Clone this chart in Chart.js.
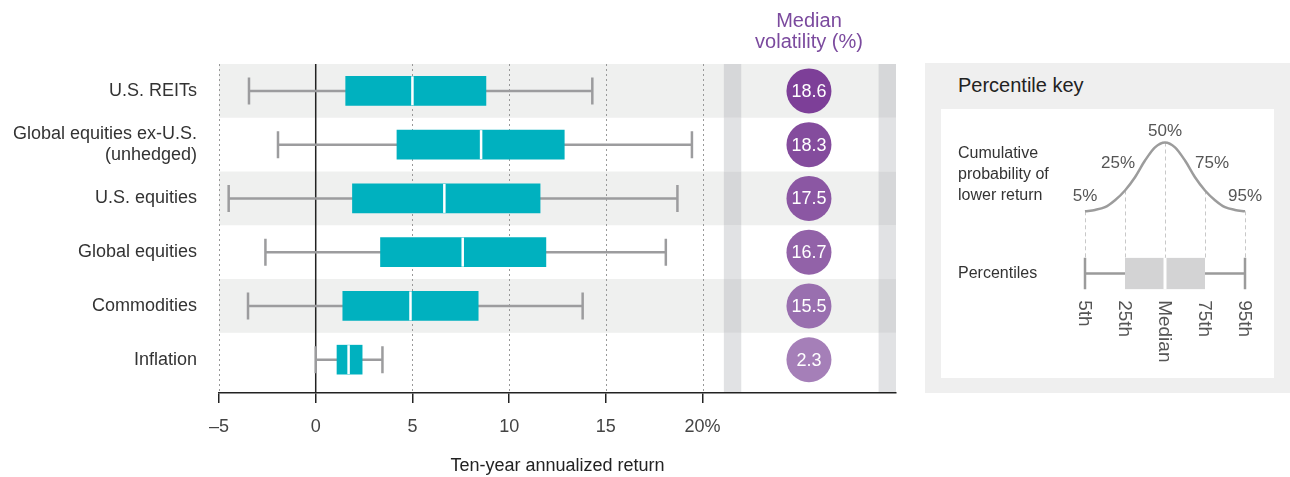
<!DOCTYPE html>
<html lang="en">
<head>
    <meta charset="UTF-8">
    <title>Ten-year annualized return</title>
    <script src="https://cdn.jsdelivr.net/npm/chart.js"></script>
    <style>
        body { margin: 0; background: #fff; font-family: "Liberation Sans", Arial, sans-serif; }
        #wrap { position: relative; width: 1290px; height: 477px; overflow: hidden; }
        #mainChart { position: absolute; left: 0; top: 0; }
        #keyPanel { position: absolute; left: 925px; top: 63px; width: 365px; height: 330px; background: #efefef; }
        #keyTitle { position: absolute; left: 33px; top: 11px; font-size: 20px; color: #222; }
        #keyInner { position: absolute; left: 16px; top: 46px; width: 333px; height: 269px; background: #fff; }
        #keyChart { position: absolute; left: 0; top: 0; }
        .keyText { position: absolute; left: 17px; font-size: 16px; line-height: 21px; color: #333; }
    </style>
</head>
<body>
<div id="wrap">
    <canvas id="mainChart" width="910" height="477"></canvas>
    <div id="keyPanel">
        <div id="keyTitle">Percentile key</div>
        <div id="keyInner">
            <canvas id="keyChart" width="333" height="269"></canvas>
            <div class="keyText" style="top:33px">Cumulative<br>probability of<br>lower return</div>
            <div class="keyText" style="top:153px">Percentiles</div>
        </div>
    </div>
</div>

<script>
    // main chart data
    const categories = ['U.S. REITs', ['Global equities ex-U.S.', '(unhedged)'], 'U.S. equities', 'Global equities', 'Commodities', 'Inflation'];
    const p5  = [-3.45, -1.95, -4.5, -2.6, -3.5, 0.0];
    const p25 = [1.55, 4.2, 1.9, 3.35, 1.4, 1.1];
    const p50 = [5.0, 8.55, 6.65, 7.6, 4.9, 1.7];
    const p75 = [8.8, 12.85, 11.6, 11.9, 8.4, 2.4];
    const p95 = [14.3, 19.45, 18.7, 18.1, 13.8, 3.45];
    const volatility = [18.6, 18.3, 17.5, 16.7, 15.5, 2.3];
    const xTicks = [-5, 0, 5, 10, 15, 20];

    // percentile key data
    const keyCurveX = [-2, -1.75, -1.5, -1.25, -1, -0.75, -0.5, -0.25, 0, 0.25, 0.5, 0.75, 1, 1.25, 1.5, 1.75, 2];
    const keyCurveY = [0.01, 0.03, 0.07, 0.17, 0.31, 0.5, 0.74, 0.93, 1, 0.93, 0.74, 0.5, 0.31, 0.17, 0.07, 0.03, 0.01];
    const keyMarks = [-2, -1, 0, 1, 2];
    const keyPctLabels = ['5%', '25%', '50%', '75%', '95%'];
    const keyNames = ['5th', '25th', 'Median', '75th', '95th'];

    const FONT = "'Liberation Sans', Arial, sans-serif";
    Chart.defaults.font.family = FONT;

    const teal = '#00b1bf';
    const whiskerGray = '#9c9c9e';
    const purple = '#7b4a9e';
    const volColors = ['#7d3f98', '#844c9d', '#8b57a3', '#9262a8', '#996faf', '#a57fb8'];
    const volX = 25.5;

    const boxPlugin = {
        id: 'boxPlugin',
        beforeDraw(chart) {
            const { ctx, chartArea: a, scales: { x, y } } = chart;
            const b1 = x.getPixelForValue(21.1), b2 = x.getPixelForValue(22.0);
            const b3 = x.getPixelForValue(29.1), b4 = x.getPixelForValue(30);
            ctx.save();
            // volatility column edges, white-row tone down to the axis
            ctx.fillStyle = '#e1e2e4';
            ctx.fillRect(b1, a.top, b2 - b1, a.bottom - a.top);
            ctx.fillRect(b3, a.top, b4 - b3, a.bottom - a.top);
            categories.forEach((c, i) => {
                if (i % 2 !== 0) return;
                const top = y.getPixelForValue(i - 0.5);
                const rowH = y.getPixelForValue(i + 0.5) - top;
                ctx.fillStyle = '#eff0ef';
                ctx.fillRect(a.left, top, a.right - a.left, rowH);
                ctx.fillStyle = '#d6d7d9';
                ctx.fillRect(b1, top, b2 - b1, rowH);
                ctx.fillRect(b3, top, b4 - b3, rowH);
            });
            // dotted grid
            ctx.strokeStyle = '#999';
            ctx.lineWidth = 1;
            ctx.setLineDash([2, 3]);
            xTicks.forEach(v => {
                if (v === 0) return;
                const px = Math.round(x.getPixelForValue(v)) + 0.5;
                ctx.beginPath();
                ctx.moveTo(px, a.top);
                ctx.lineTo(px, a.bottom);
                ctx.stroke();
            });
            ctx.setLineDash([]);
            ctx.strokeStyle = '#222';
            ctx.lineWidth = 1.5;
            const z = x.getPixelForValue(0);
            ctx.beginPath();
            ctx.moveTo(z, a.top);
            ctx.lineTo(z, a.bottom);
            ctx.stroke();
            ctx.restore();
        },
        beforeDatasetsDraw(chart) {
            const { ctx, scales: { x, y } } = chart;
            ctx.save();
            ctx.strokeStyle = whiskerGray;
            ctx.lineWidth = 2.5;
            categories.forEach((c, i) => {
                const yc = y.getPixelForValue(i);
                const l = x.getPixelForValue(p5[i]), r = x.getPixelForValue(p95[i]);
                ctx.beginPath();
                ctx.moveTo(l, yc); ctx.lineTo(r, yc);
                ctx.moveTo(l, yc - 13.5); ctx.lineTo(l, yc + 13.5);
                ctx.moveTo(r, yc - 13.5); ctx.lineTo(r, yc + 13.5);
                ctx.stroke();
            });
            ctx.restore();
        },
        afterDatasetsDraw(chart) {
            const { ctx, scales: { x, y } } = chart;
            ctx.save();
            categories.forEach((c, i) => {
                const yc = y.getPixelForValue(i);
                const m = x.getPixelForValue(p50[i]);
                ctx.strokeStyle = '#fff';
                ctx.lineWidth = 2.5;
                ctx.beginPath();
                ctx.moveTo(m, yc - 14.5); ctx.lineTo(m, yc + 14.5);
                ctx.stroke();

                const cx = x.getPixelForValue(volX);
                ctx.fillStyle = volColors[i];
                ctx.beginPath();
                ctx.arc(cx, yc, 22.5, 0, Math.PI * 2);
                ctx.fill();
                ctx.fillStyle = '#fff';
                ctx.font = '18px ' + FONT;
                ctx.textAlign = 'center';
                ctx.textBaseline = 'middle';
                ctx.fillText(volatility[i].toFixed(1), cx, yc + 1);
            });
            ctx.restore();
        },
        afterDraw(chart) {
            const { ctx, scales: { x } } = chart;
            const cx = x.getPixelForValue(volX);
            ctx.save();
            ctx.fillStyle = purple;
            ctx.font = '20px ' + FONT;
            ctx.textAlign = 'center';
            ctx.textBaseline = 'middle';
            ctx.fillText('Median', cx, 21);
            ctx.fillText('volatility (%)', cx, 42);
            ctx.restore();
        }
    };

    new Chart(document.getElementById('mainChart'), {
        type: 'bar',
        data: {
            datasets: [{
                data: p25.map((v, i) => ({ x: [v, p75[i]], y: i })),
                backgroundColor: teal,
                barThickness: 29,
                borderSkipped: false
            }]
        },
        options: {
            indexAxis: 'y',
            responsive: false,
            animation: false,
            layout: { padding: { top: 64, right: 14, left: 0, bottom: 0 } },
            plugins: { legend: { display: false }, tooltip: { enabled: false } },
            scales: {
                x: {
                    type: 'linear',
                    min: -5,
                    max: 30,
                    afterBuildTicks: s => { s.ticks = xTicks.map(v => ({ value: v })); },
                    grid: { drawOnChartArea: false, drawTicks: true, tickLength: 10, color: '#222', lineWidth: 1.5 },
                    border: { color: '#222', width: 1.5 },
                    ticks: {
                        padding: 13,
                        color: '#444',
                        font: { size: 18 },
                        maxRotation: 0,
                        autoSkip: false,
                        callback: v => v < 0 ? '\u2013' + Math.abs(v) : (v === 20 ? '20%' : String(v))
                    },
                    title: { display: true, text: 'Ten-year annualized return', color: '#222', font: { size: 18 }, padding: { top: 0, bottom: 0 } },
                    afterFit: s => { s.height = 84; }
                },
                y: {
                    type: 'linear',
                    reverse: true,
                    offset: false,
                    min: -0.5,
                    max: 5.62,
                    afterBuildTicks: s => { s.ticks = categories.map((c, i) => ({ value: i })); },
                    grid: { display: false, offset: false },
                    border: { display: false },
                    ticks: { color: '#333', font: { size: 18 }, padding: 14, autoSkip: false, callback: v => categories[v] },
                    afterFit: s => { s.width = 219; }
                }
            }
        },
        plugins: [boxPlugin]
    });

    // percentile key
    const keyBoxTop = -0.66, keyBoxBottom = -1.11, keyBoxMid = -0.885;
    const keyLabelY = [0.22, 0.7, 1.16, 0.7, 0.22];
    const keyLabelDx = [0, -7, 0, 7, 0];

    const keyPlugin = {
        id: 'keyPlugin',
        beforeDatasetsDraw(chart) {
            const { ctx, scales: { x, y } } = chart;
            ctx.save();
            ctx.strokeStyle = '#c8c8c8';
            ctx.lineWidth = 1;
            ctx.setLineDash([4, 3]);
            keyMarks.forEach(m => {
                const px = Math.round(x.getPixelForValue(m)) + 0.5;
                const cy = keyCurveY[keyCurveX.indexOf(m)];
                ctx.beginPath();
                ctx.moveTo(px, y.getPixelForValue(cy));
                ctx.lineTo(px, y.getPixelForValue(keyBoxTop));
                ctx.stroke();
            });
            ctx.restore();
        },
        afterDatasetsDraw(chart) {
            const { ctx, scales: { x, y } } = chart;
            const l = x.getPixelForValue(keyMarks[0]), r = x.getPixelForValue(keyMarks[4]);
            const q1 = x.getPixelForValue(keyMarks[1]), q3 = x.getPixelForValue(keyMarks[3]);
            const md = x.getPixelForValue(keyMarks[2]);
            const t = y.getPixelForValue(keyBoxTop), b = y.getPixelForValue(keyBoxBottom), mid = y.getPixelForValue(keyBoxMid);
            ctx.save();
            ctx.strokeStyle = '#9b9b9b';
            ctx.lineWidth = 2.5;
            ctx.beginPath();
            ctx.moveTo(l, mid); ctx.lineTo(r, mid);
            ctx.moveTo(l, t); ctx.lineTo(l, b);
            ctx.moveTo(r, t); ctx.lineTo(r, b);
            ctx.stroke();
            ctx.fillStyle = '#d3d3d4';
            ctx.fillRect(q1, t, q3 - q1, b - t);
            ctx.strokeStyle = '#fff';
            ctx.lineWidth = 3;
            ctx.beginPath();
            ctx.moveTo(md, t); ctx.lineTo(md, b);
            ctx.stroke();

            ctx.fillStyle = '#555';
            ctx.font = '17px ' + FONT;
            ctx.textAlign = 'center';
            ctx.textBaseline = 'middle';
            keyMarks.forEach((m, i) => {
                ctx.fillText(keyPctLabels[i], x.getPixelForValue(m) + keyLabelDx[i], y.getPixelForValue(keyLabelY[i]));
            });
            ctx.font = '19px ' + FONT;
            ctx.textAlign = 'left';
            keyMarks.forEach((m, i) => {
                ctx.save();
                ctx.translate(x.getPixelForValue(m) - 1, b + 11);
                ctx.rotate(Math.PI / 2);
                ctx.fillText(keyNames[i], 0, 0);
                ctx.restore();
            });
            ctx.restore();
        }
    };

    new Chart(document.getElementById('keyChart'), {
        type: 'scatter',
        data: {
            datasets: [{
                data: keyCurveX.map((v, i) => ({ x: v, y: keyCurveY[i] })),
                showLine: true,
                borderColor: '#9c9c9c',
                borderWidth: 2.5,
                pointRadius: 0,
                cubicInterpolationMode: 'monotone',
                clip: false
            }]
        },
        options: {
            responsive: false,
            animation: false,
            layout: { padding: { left: 144, right: 29, top: 19.6, bottom: 82.6 } },
            plugins: { legend: { display: false }, tooltip: { enabled: false } },
            scales: {
                x: { type: 'linear', min: -2, max: 2, display: false },
                y: { type: 'linear', min: -1.2, max: 1.2, display: false }
            }
        },
        plugins: [keyPlugin]
    });
</script>
</body>
</html>
